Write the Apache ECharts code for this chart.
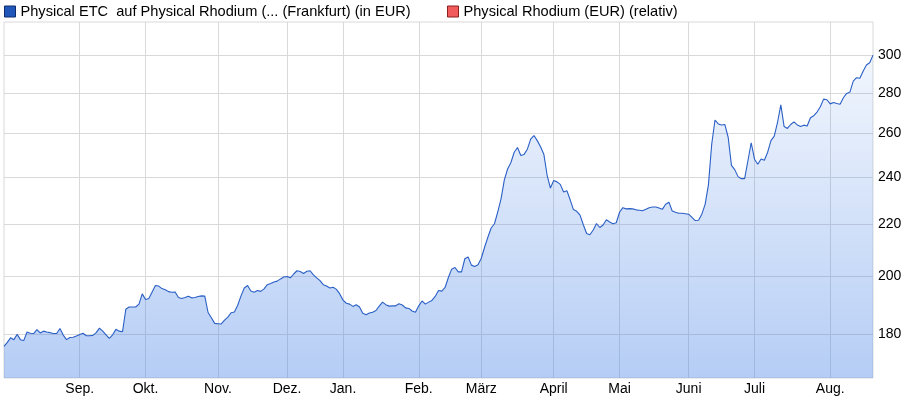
<!DOCTYPE html>
<html>
<head>
<meta charset="utf-8">
<script src="https://cdn.jsdelivr.net/npm/echarts@6/dist/echarts.min.js"></script>
<style>html,body{margin:0;padding:0;background:#fff}#c{width:905px;height:399px}</style>
</head>
<body>
<div id="c"></div>
<script>
const seriesName = 'Physical ETC  auf Physical Rhodium (... (Frankfurt) (in EUR)';
const compareName = 'Physical Rhodium (EUR) (relativ)';
const monthLabels = ['', 'Sep.', 'Okt.', 'Nov.', 'Dez.', 'Jan.', 'Feb.', 'März', 'April', 'Mai', 'Juni', 'Juli', 'Aug.'];
const yTicks = [180, 200, 220, 240, 260, 280, 300];

const aug24 = [175.9, 177.2, 178.7, 178.1, 179.9, 178.1, 177.8, 180.6, 180.2, 180.1, 181.4, 180.3, 180.9, 180.6, 180.4, 180.1, 180.1, 181.8, 179.6, 178.1, 178.8, 178.9, 179.3];
const sep24 = [179.8, 180.2, 179.4, 179.4, 179.5, 180.4, 181.9, 180.9, 179.7, 178.5, 179.7, 181.5, 180.9, 180.7, 188.3, 189.1, 189.1, 189.1, 190.1, 193.7];
const oct24 = [191.7, 192.1, 194.4, 196.7, 196.5, 195.6, 195.2, 194.5, 194.3, 194.4, 192.4, 192.1, 192.4, 192.9, 192.3, 192.4, 192.8, 193.0, 192.9, 187.2, 185.4, 183.5];
const nov24 = [183.4, 183.3, 184.6, 185.6, 187.1, 187.4, 189.7, 193.0, 195.8, 196.7, 194.7, 194.3, 194.9, 194.6, 195.5, 197.0, 197.4, 198.0, 198.3, 199.1, 199.8];
const dec24 = [200.0, 199.5, 200.9, 202.1, 201.8, 201.1, 201.9, 202.1, 200.6, 199.5, 198.5, 197.0, 196.5, 195.8, 196.1, 195.3, 193.7];
const jan25 = [191.5, 190.4, 190.1, 189.3, 189.9, 189.1, 186.9, 186.4, 187.0, 187.3, 187.9, 189.4, 190.8, 189.9, 189.4, 189.5, 189.5, 190.2, 189.8, 188.8, 188.6, 187.7, 187.3];
const feb25 = [189.5, 191.2, 190.1, 190.8, 191.4, 192.8, 194.9, 194.7, 196.0, 199.6, 202.7, 203.3, 201.7, 201.7, 206.6, 207.3, 204.2, 203.7, 204.3];
const mar25 = [206.8, 211.0, 214.9, 218.6, 220.3, 225.2, 230.6, 238.8, 243.6, 246.5, 251.2, 253.4, 249.7, 250.2, 252.6, 257.3, 259.0, 256.6, 253.7, 250.3, 240.8, 235.2];
const apr25 = [238.5, 237.9, 236.8, 233.5, 234.1, 230.2, 226.1, 225.4, 223.8, 219.9, 216.4, 215.9, 217.8, 220.4, 218.8, 219.8, 221.9, 221.0, 220.3, 220.7];
const may25 = [225.0, 226.9, 226.4, 226.5, 226.4, 226.0, 225.8, 225.6, 226.2, 226.9, 227.2, 227.2, 226.8, 226.2, 228.3, 229.2, 225.5, 225.0, 224.6, 224.6, 224.4];
const jun25 = [224.2, 222.9, 221.6, 221.7, 224.2, 228.3, 236.6, 254.9, 266.5, 264.6, 264.1, 264.3, 258.2, 245.2, 243.3, 240.2, 239.3, 239.3, 247.3, 255.6];
const jul25 = [248.0, 245.7, 248.1, 247.5, 251.2, 256.6, 258.7, 265.4, 274.0, 263.3, 262.4, 264.3, 265.6, 264.1, 263.3, 264.0, 263.6, 267.6, 268.6, 270.4, 273.1, 276.9, 276.6];
const aug25 = [274.5, 275.2, 274.7, 274.3, 277.6, 279.8, 280.5, 286.2, 288.0, 287.7, 291.4, 294.8, 296.0, 300.2];

const months = [aug24, sep24, oct24, nov24, dec24, jan25, feb25, mar25, apr25, may25, jun25, jul25, aug25];
const values = [];
const categories = [];
const labels = [];
months.forEach(function (m, mi) {
  m.forEach(function (v, j) {
    values.push(v);
    categories.push(mi + '-' + j);
    labels.push(j === 0 ? monthLabels[mi] : '');
  });
});

const FONT = '"Liberation Sans", Arial, sans-serif';
const chart = echarts.init(document.getElementById('c'), null, {renderer: 'canvas'});
chart.setOption({
  animation: false,
  backgroundColor: '#fff',
  legend: [
    {
      left: 4, top: 4, padding: 0, itemWidth: 11, itemHeight: 11, itemGap: 0, icon: 'rect',
      data: [{name: seriesName, itemStyle: {color: '#2157b8', borderColor: '#0e2c6b', borderWidth: 1}}],
      textStyle: {fontSize: 14.6, color: '#000', fontFamily: FONT}
    },
    {
      left: 447, top: 4, padding: 0, itemWidth: 11, itemHeight: 11, itemGap: 0, icon: 'rect',
      data: [{name: compareName, itemStyle: {color: '#f25b5b', borderColor: '#8a2020', borderWidth: 1}}],
      textStyle: {fontSize: 14.6, color: '#000', fontFamily: FONT}
    }
  ],
  grid: {left: 4, right: 32, top: 22, bottom: 21, show: true, borderColor: '#d9d9d9', borderWidth: 1, containLabel: false},
  xAxis: {
    type: 'category',
    boundaryGap: false,
    data: categories,
    axisLine: {show: false},
    axisTick: {show: false},
    axisLabel: {
      interval: function (idx) { return labels[idx] !== ''; },
      formatter: function (val, idx) { return labels[idx]; },
      color: '#000', fontSize: 14, fontFamily: FONT, margin: 4
    },
    splitLine: {
      show: true,
      interval: function (idx) { return labels[idx] !== ''; },
      lineStyle: {color: '#d9d9d9', width: 1}
    }
  },
  yAxis: {
    type: 'log',
    position: 'right',
    min: 166,
    max: 319,
    axisLine: {show: false},
    axisTick: {show: false, customValues: yTicks},
    axisLabel: {customValues: yTicks, color: '#000', fontSize: 14, fontFamily: FONT, margin: 5},
    splitLine: {show: true, lineStyle: {color: '#d9d9d9', width: 1}}
  },
  series: [
    {
      name: seriesName,
      type: 'line',
      data: values,
      symbol: 'none',
      color: '#2157b8',
      lineStyle: {color: '#2a5fc6', width: 1.1},
      areaStyle: {
        opacity: 1,
        color: new echarts.graphic.LinearGradient(0, 0, 0, 1, [
          {offset: 0, color: 'rgba(70,130,230,0.07)'},
          {offset: 1, color: 'rgba(70,130,230,0.40)'}
        ])
      }
    },
    {
      name: compareName,
      type: 'line',
      data: [],
      symbol: 'none',
      color: '#f25b5b'
    }
  ]
});
</script>
</body>
</html>
